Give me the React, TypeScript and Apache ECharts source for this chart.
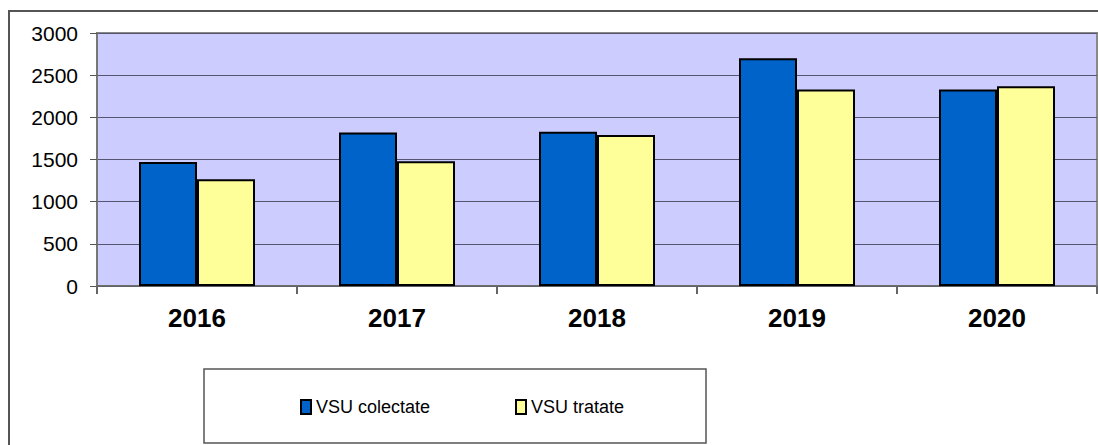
import React, { useEffect, useRef } from "react";
import * as echarts from "echarts";

const years = ["2016", "2017", "2018", "2019", "2020"];
const colectate = [1470, 1820, 1830, 2700, 2330];
const tratate = [1265, 1480, 1790, 2330, 2370];
const seriesNames = ["VSU colectate", "VSU tratate"];

export default function App() {
  const ref = useRef<HTMLDivElement>(null);
  useEffect(() => {
    if (!ref.current) return;
    const chart = echarts.init(ref.current, undefined, { renderer: "svg" });
    const font = "Arial, 'Liberation Sans', sans-serif";
    const legendText = { fontSize: 18, color: "#000", fontFamily: font };
    chart.setOption({
      animation: false,
      backgroundColor: "#ffffff",
      textStyle: { fontFamily: font },
      grid: {
        left: 97,
        top: 33,
        right: 1,
        bottom: 159,
        show: true,
        backgroundColor: "#CCCCFF",
        borderColor: "#888888",
        borderWidth: 2,
      },
      graphic: [
        {
          type: "rect",
          shape: { x: 9, y: 11, width: 1200, height: 600 },
          style: { fill: "none", stroke: "#555555", lineWidth: 2 },
          silent: true,
          z: 100,
        },
        {
          type: "rect",
          shape: { x: 204, y: 369, width: 502, height: 74 },
          style: { fill: "#ffffff", stroke: "#555555", lineWidth: 1.5 },
          silent: true,
          z: 1,
        },
      ],
      legend: [
        {
          data: [seriesNames[0]],
          left: 295,
          top: 393,
          padding: 5,
          itemWidth: 10,
          itemHeight: 14,
          icon: "rect",
          textStyle: legendText,
          z: 10,
        },
        {
          data: [seriesNames[1]],
          left: 510,
          top: 393,
          padding: 5,
          itemWidth: 10,
          itemHeight: 14,
          icon: "rect",
          textStyle: legendText,
          z: 10,
        },
      ],
      xAxis: {
        type: "category",
        data: years,
        axisLine: { lineStyle: { color: "#666666", width: 1.5 } },
        axisTick: { show: true, length: 8, lineStyle: { color: "#666666", width: 2 } },
        axisLabel: { fontSize: 26, fontWeight: "bold", color: "#000", margin: 19, fontFamily: font },
      },
      yAxis: {
        type: "value",
        min: 0,
        max: 3000,
        interval: 500,
        axisLine: { show: true, lineStyle: { color: "#777777", width: 2 } },
        axisTick: { show: true, length: 7, lineStyle: { color: "#555555", width: 1 } },
        axisLabel: {
          fontSize: 21,
          color: "#000",
          margin: 19,
          fontFamily: font,
          formatter: (v: number) => String(v),
        },
        splitLine: { lineStyle: { color: "#555570", width: 1.2 } },
      },
      series: [
        {
          name: seriesNames[0],
          type: "bar",
          data: colectate,
          barGap: "0%",
          barCategoryGap: "42%",
          itemStyle: { color: "#0063C9", borderColor: "#000000", borderWidth: 2 },
        },
        {
          name: seriesNames[1],
          type: "bar",
          data: tratate,
          itemStyle: { color: "#FFFF99", borderColor: "#000000", borderWidth: 2 },
        },
      ],
    });
    return () => chart.dispose();
  }, []);
  return (
    <div
      ref={ref}
      style={{ position: "absolute", left: 0, top: 0, width: 1098, height: 445 }}
    />
  );
}
